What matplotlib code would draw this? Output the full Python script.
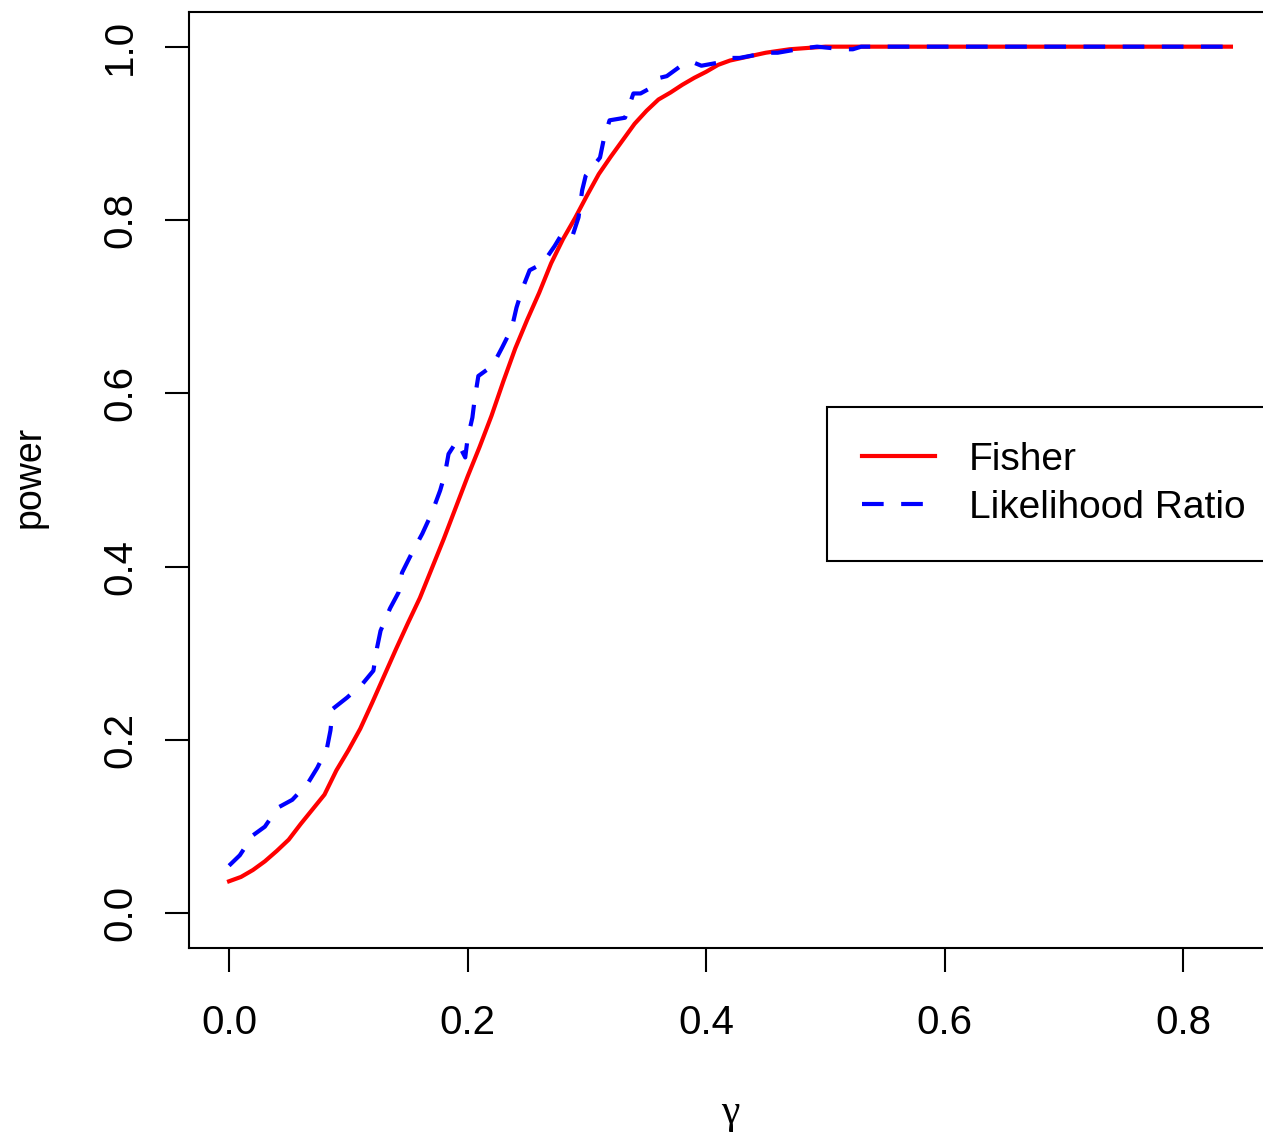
import numpy as np
import matplotlib.pyplot as plt

plt.rcParams['font.family'] = ['Liberation Sans', 'DejaVu Sans']

# Fisher test power (smooth curve), gamma step 0.01
gamma_f = np.round(np.arange(0, 0.845, 0.01), 2)
power_f_head = [0.037, 0.042, 0.050, 0.060, 0.072, 0.085, 0.103, 0.120, 0.137, 0.165,
                0.188, 0.213, 0.243, 0.274, 0.305, 0.335, 0.364, 0.398, 0.432, 0.468,
                0.504, 0.538, 0.574, 0.614, 0.652, 0.685, 0.716, 0.750, 0.778, 0.802,
                0.828, 0.853, 0.873, 0.892, 0.911, 0.926, 0.939, 0.947, 0.956, 0.964,
                0.971, 0.979, 0.984, 0.987, 0.990, 0.993, 0.995, 0.997, 0.998, 0.999]
power_f = power_f_head + [1.0] * (len(gamma_f) - len(power_f_head))

# Likelihood ratio test power (jagged curve)
gamma_lr = [0.000, 0.009, 0.020, 0.030, 0.041, 0.053, 0.066, 0.074, 0.082, 0.085,
            0.087, 0.099, 0.112, 0.121, 0.124, 0.127, 0.135, 0.142, 0.145, 0.153,
            0.162, 0.170, 0.177, 0.181, 0.184, 0.191, 0.198, 0.200, 0.204, 0.206,
            0.209, 0.221, 0.229, 0.237, 0.241, 0.246, 0.252, 0.263, 0.273, 0.280,
            0.288, 0.293, 0.296, 0.299, 0.311, 0.314, 0.319, 0.332, 0.339, 0.345,
            0.353, 0.361, 0.367, 0.381, 0.389, 0.396, 0.412, 0.420, 0.428, 0.451,
            0.460, 0.481, 0.493, 0.515, 0.523, 0.530, 0.840]
power_lr = [0.055, 0.067, 0.090, 0.100, 0.122, 0.131, 0.150, 0.168, 0.190, 0.211,
            0.236, 0.249, 0.265, 0.280, 0.306, 0.326, 0.352, 0.370, 0.393, 0.415,
            0.438, 0.462, 0.488, 0.507, 0.530, 0.545, 0.526, 0.548, 0.572, 0.594,
            0.620, 0.632, 0.653, 0.675, 0.699, 0.721, 0.742, 0.750, 0.770, 0.786,
            0.782, 0.803, 0.834, 0.851, 0.872, 0.892, 0.915, 0.918, 0.946, 0.946,
            0.952, 0.964, 0.966, 0.980, 0.982, 0.978, 0.982, 0.987, 0.987, 0.993,
            0.993, 0.998, 1.000, 0.997, 0.997, 1.000, 1.000]

W, H = 1263, 1137
fig = plt.figure(figsize=(W / 100, H / 100), dpi=100)
ax = fig.add_axes([189 / W, 1 - 948 / H, (1271 - 189) / W, (948 - 12) / H])

ax.plot(gamma_f, power_f, color='red', lw=3.0, label='Fisher')
ax.plot(gamma_lr, power_lr, color='blue', lw=3.0, linestyle=(0, (5.2, 4.2)),
        label='Likelihood Ratio')

ax.set_xlim(-0.0336, 0.8736)
ax.set_ylim(-0.04, 1.04)
ax.set_xticks([0.0, 0.2, 0.4, 0.6, 0.8])
ax.set_yticks([0.0, 0.2, 0.4, 0.6, 0.8, 1.0])
ax.set_xticklabels(['0.0', '0.2', '0.4', '0.6', '0.8'])
ax.set_yticklabels(['0.0', '0.2', '0.4', '0.6', '0.8', '1.0'])
for s in ax.spines.values():
    s.set_linewidth(1.5)
ax.tick_params(axis='both', length=17, width=1.5, labelsize=29)
ax.tick_params(axis='x', pad=23.5)
ax.tick_params(axis='y', pad=19, labelrotation=90)
for t in ax.get_yticklabels():
    t.set_va('center')

fig.text(730 / W, 1 - 1113 / H, 'γ', family='Liberation Serif', fontsize=30,
         ha='center', va='center')
fig.text(30 / W, 1 - 477 / H, 'power', fontsize=27, rotation=90,
         ha='center', va='center')

leg = ax.legend(loc='upper left', bbox_to_anchor=(827 / W, 1 - 407 / H),
                bbox_transform=fig.transFigure, fontsize=28, handlelength=1.88,
                handletextpad=0.87, borderpad=0.9, labelspacing=0.3,
                fancybox=False, framealpha=1, edgecolor='black', borderaxespad=0)
leg.get_frame().set_linewidth(1.5)

fig.savefig('out.png', dpi=100)
